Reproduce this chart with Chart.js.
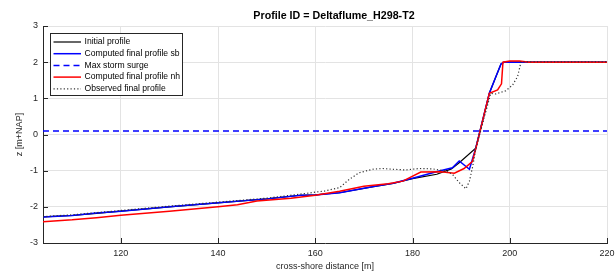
<!DOCTYPE html>
<html>
<head>
<meta charset="utf-8">
<script src="https://cdn.jsdelivr.net/npm/chart.js@4.4.1/dist/chart.umd.min.js"></script>
<style>
html, body { margin: 0; padding: 0; background: #fff; overflow: hidden; }
#wrap { width: 640px; height: 272px; }
</style>
</head>
<body>
<div id="wrap"><canvas id="profileChart" width="640" height="272"></canvas></div>
<script>
// profile data
const initialX = [104, 110, 115, 120, 130, 140, 150, 157, 160, 165, 172, 176, 180, 185, 188, 189.6, 193, 195.8, 197, 198.2, 198.8, 220];
const initialZ = [-2.28, -2.24, -2.18, -2.12, -2.0, -1.89, -1.78, -1.68, -1.67, -1.61, -1.44, -1.35, -1.22, -1.1, -0.95, -0.78, -0.38, 1.14, 1.55, 1.95, 2.0, 2.0];

const sbX = [104, 110, 115, 120, 130, 140, 150, 157, 160, 165, 172, 176, 180, 185.5, 188.2, 189.6, 191.7, 193, 195.8, 197, 198.2, 198.8, 220];
const sbZ = [-2.28, -2.24, -2.17, -2.12, -2.0, -1.89, -1.78, -1.68, -1.67, -1.61, -1.44, -1.35, -1.21, -1.01, -0.92, -0.73, -0.96, -0.38, 1.14, 1.55, 1.95, 2.0, 2.0];

const surgeX = [104, 220];
const surgeZ = [0.1, 0.1];

const nhX = [104, 110, 115, 120, 130, 140, 144, 148, 155, 160, 165, 170, 175, 178, 181.7, 185.8, 188.6, 190.6, 192.3, 193, 195.8, 197.5, 198.3, 198.6, 200, 202, 204, 220];
const nhZ = [-2.41, -2.36, -2.3, -2.23, -2.12, -2.0, -1.94, -1.84, -1.76, -1.68, -1.57, -1.43, -1.36, -1.29, -1.04, -1.03, -1.07, -0.94, -0.75, -0.4, 1.14, 1.23, 1.4, 2.0, 2.03, 2.03, 2.0, 2.0];

const obsX = [104, 110, 120, 130, 140, 150, 158, 162, 165, 167, 169, 171.8, 173.9, 175.9, 178.6, 181.4, 184.1, 186.9, 188.2, 189.6, 191, 191.7, 192.4, 193, 196.1, 197.1, 199.2, 200.6, 201.6, 202.1, 202.3, 220];
const obsZ = [-2.27, -2.22, -2.1, -1.98, -1.87, -1.76, -1.63, -1.56, -1.47, -1.24, -1.06, -0.96, -0.94, -0.96, -0.98, -0.94, -0.95, -1.01, -1.1, -1.33, -1.5, -1.29, -0.87, -0.4, 1.14, 1.12, 1.21, 1.37, 1.6, 1.88, 2.01, 2.01];

const xTicks = [120, 140, 160, 180, 200, 220];
const yTicks = [-3, -2, -1, 0, 1, 2, 3];

const seriesLabels = ['Initial profile', 'Computed final profile sb', 'Max storm surge', 'Computed final profile nh', 'Observed final profile'];

function toPoints(xs, zs) {
    return xs.map((x, i) => ({ x: x, y: zs[i] }));
}

const axisColor = '#262626';
const fontFamily = '"Liberation Sans", Arial, Helvetica, sans-serif';

// title drawn by hand so it can sit where matlab put it
const titlePlugin = {
    id: 'figTitle',
    afterDraw(chart) {
        const ctx = chart.ctx;
        ctx.save();
        ctx.font = 'bold 10.7px ' + fontFamily;
        ctx.fillStyle = '#000';
        ctx.textAlign = 'center';
        ctx.textBaseline = 'middle';
        ctx.fillText('Profile ID = Deltaflume_H298-T2', 334, 16);
        ctx.restore();
    }
};

// matlab style ticks pointing into the axes
const innerTicks = {
    id: 'innerTicks',
    afterDatasetsDraw(chart) {
        const ctx = chart.ctx;
        const xs = chart.scales.x, ys = chart.scales.y;
        const area = chart.chartArea;
        ctx.save();
        ctx.strokeStyle = axisColor;
        ctx.lineWidth = 1;
        ctx.beginPath();
        xTicks.forEach(v => {
            const px = Math.round(xs.getPixelForValue(v)) + 0.5;
            ctx.moveTo(px, area.bottom);
            ctx.lineTo(px, area.bottom - 5);
        });
        yTicks.forEach(v => {
            const py = Math.round(ys.getPixelForValue(v)) + 0.5;
            ctx.moveTo(area.left, py);
            ctx.lineTo(area.left + 5, py);
        });
        ctx.stroke();
        ctx.restore();
    }
};

const legendBox = {
    id: 'legendBox',
    afterDraw(chart) {
        const ctx = chart.ctx;
        const left = 50.5, top = 33.5, w = 132, h = 62;
        ctx.save();
        ctx.fillStyle = '#fff';
        ctx.fillRect(left, top, w, h);
        ctx.strokeStyle = axisColor;
        ctx.lineWidth = 1;
        ctx.strokeRect(left, top, w, h);
        ctx.font = '8.6px ' + fontFamily;
        ctx.textBaseline = 'middle';
        chart.data.datasets.forEach((ds, i) => {
            const y = 42 + i * 11.7;
            ctx.beginPath();
            ctx.setLineDash(ds.borderDash || []);
            ctx.strokeStyle = ds.borderColor;
            ctx.lineWidth = ds.borderWidth;
            ctx.moveTo(53.5, y);
            ctx.lineTo(81, y);
            ctx.stroke();
            ctx.setLineDash([]);
            ctx.fillStyle = '#000';
            ctx.fillText(ds.label, 84.5, y);
        });
        ctx.restore();
    }
};

const ctx = document.getElementById('profileChart').getContext('2d');
new Chart(ctx, {
    type: 'line',
    data: {
        datasets: [
            { label: seriesLabels[0], data: toPoints(initialX, initialZ), borderColor: '#000000', borderWidth: 1.2, order: 5 },
            { label: seriesLabels[1], data: toPoints(sbX, sbZ), borderColor: '#0000ff', borderWidth: 1.5, order: 4 },
            { label: seriesLabels[2], data: toPoints(surgeX, surgeZ), borderColor: '#0000ff', borderWidth: 1.5, borderDash: [6, 4], order: 3 },
            { label: seriesLabels[3], data: toPoints(nhX, nhZ), borderColor: '#ff0000', borderWidth: 1.5, order: 2 },
            { label: seriesLabels[4], data: toPoints(obsX, obsZ), borderColor: '#333333', borderWidth: 1.2, borderDash: [1.2, 2.2], order: 1 }
        ]
    },
    options: {
        responsive: false,
        animation: false,
        devicePixelRatio: 1,
        elements: { point: { radius: 0 }, line: { tension: 0 } },
        layout: { padding: { top: 26, right: 33, left: 0, bottom: 0 } },
        plugins: { legend: { display: false }, tooltip: { enabled: false } },
        scales: {
            x: {
                type: 'linear',
                min: 104,
                max: 220,
                afterBuildTicks: s => { s.ticks = xTicks.map(v => ({ value: v })); },
                afterFit: s => { s.height = 29; },
                grid: { color: '#e3e3e3', drawTicks: false },
                border: { display: true, color: axisColor, width: 1 },
                ticks: { color: axisColor, padding: 5, maxRotation: 0, font: { family: fontFamily, size: 9 } },
                title: { display: true, text: 'cross-shore distance [m]', color: axisColor, padding: { top: 0, bottom: 0 }, font: { family: fontFamily, size: 9 } }
            },
            y: {
                min: -3,
                max: 3,
                afterBuildTicks: s => { s.ticks = yTicks.map(v => ({ value: v })); },
                afterFit: s => { s.width = 43; },
                grid: { color: '#e3e3e3', drawTicks: false },
                border: { display: true, color: axisColor, width: 1 },
                ticks: { color: axisColor, padding: 5, font: { family: fontFamily, size: 9 } },
                title: { display: true, text: 'z [m+NAP]', color: axisColor, padding: { top: 14, bottom: 0 }, font: { family: fontFamily, size: 9 } }
            }
        }
    },
    plugins: [innerTicks, legendBox, titlePlugin]
});
</script>
</body>
</html>
